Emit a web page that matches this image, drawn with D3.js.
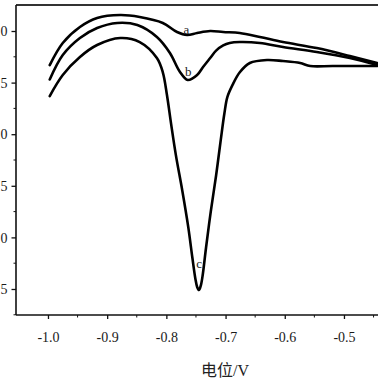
<!DOCTYPE html>
<html>
<head>
<meta charset="utf-8">
<script src="https://cdn.jsdelivr.net/npm/d3@7/dist/d3.min.js"></script>
<style>
  html, body { margin: 0; padding: 0; background: #fff; overflow: hidden; }
  svg { display: block; }
</style>
</head>
<body>
<div id="chart"></div>
<script>
// potential (V) and current values
const potA = [-0.997, -0.975, -0.946, -0.917, -0.878, -0.845, -0.806, -0.782, -0.765, -0.748, -0.726, -0.704, -0.676, -0.642, -0.603, -0.546, -0.490, -0.444];
const curA = [-1.33, -1.116, -0.961, -0.874, -0.845, -0.864, -0.922, -1.01, -1.039, -1.019, -1.0, -1.01, -1.019, -1.058, -1.107, -1.165, -1.242, -1.31];

const potB = [-0.997, -0.975, -0.946, -0.917, -0.883, -0.849, -0.816, -0.794, -0.777, -0.764, -0.748, -0.738, -0.726, -0.716, -0.704, -0.693, -0.676, -0.642, -0.603, -0.546, -0.490, -0.444];
const curB = [-1.47, -1.233, -1.068, -0.971, -0.922, -0.942, -1.058, -1.213, -1.397, -1.475, -1.426, -1.349, -1.262, -1.19, -1.14, -1.116, -1.107, -1.116, -1.155, -1.203, -1.262, -1.329];

const potC = [-0.997, -0.975, -0.946, -0.917, -0.878, -0.845, -0.816, -0.806, -0.799, -0.792, -0.784, -0.773, -0.763, -0.756, -0.751, -0.748, -0.745, -0.742, -0.739, -0.733, -0.725, -0.716, -0.708, -0.702, -0.697, -0.688, -0.676, -0.659, -0.630, -0.603, -0.574, -0.557, -0.519, -0.444];
const curC = [-1.63, -1.426, -1.252, -1.136, -1.068, -1.107, -1.262, -1.40, -1.62, -1.90, -2.20, -2.55, -2.90, -3.20, -3.40, -3.48, -3.51, -3.47, -3.38, -3.10, -2.75, -2.40, -2.05, -1.80, -1.64, -1.52, -1.40, -1.31, -1.281, -1.291, -1.31, -1.339, -1.339, -1.339];

const seriesNames = ["a", "b", "c"];
const labelPos = [[-0.766, -1.03], [-0.763, -1.44], [-0.7445, -3.30]];

const xTicks = [-1.0, -0.9, -0.8, -0.7, -0.6, -0.5];
const xMinor = [-0.95, -0.85, -0.75, -0.65, -0.55, -0.45];
const yTicks = [-1.0, -1.5, -2.0, -2.5, -3.0, -3.5];
const yMinor = [-1.25, -1.75, -2.25, -2.75, -3.25, -3.75];
const xTitle = "电位/V";

const W = 378, H = 378;
const padL = 16, padR = 385.4, padT = 5, padB = 315;

const svg = d3.select("#chart").append("svg")
  .attr("width", W).attr("height", H)
  .attr("viewBox", `0 0 ${W} ${H}`);

const x = d3.scaleLinear().domain([-1.054, -0.43]).range([padL, padR]);
const y = d3.scaleLinear().domain([-0.748, -3.752]).range([padT, padB]);

const serif = "'Times New Roman', 'Liberation Serif', 'Noto Sans CJK SC', serif";

// frame top
svg.append("line")
  .attr("x1", padL).attr("x2", W + 10)
  .attr("y1", padT).attr("y2", padT)
  .attr("stroke", "#333").attr("stroke-width", 1.8);

// x axis
const xAxis = svg.append("g").attr("transform", `translate(0,${padB})`)
  .style("font-family", serif);
xAxis.call(d3.axisBottom(x).tickValues(xTicks).tickSize(4).tickSizeOuter(0).tickFormat(d3.format(".1f")));
xAxis.append("g").selectAll("line").data(xMinor).join("line")
  .attr("x1", (d) => x(d)).attr("x2", (d) => x(d))
  .attr("y1", 0).attr("y2", 2.5).attr("stroke", "#111");
xAxis.select(".domain").attr("stroke", "#111").attr("stroke-width", 1.6)
  .attr("d", `M${padL},0H${W + 10}`);
xAxis.selectAll(".tick line").attr("stroke", "#111").attr("stroke-width", 1.3);
xAxis.selectAll(".tick text")
  .style("font-family", serif).attr("font-size", 14).attr("fill", "#1a1a1a")
  .attr("dy", null).attr("y", 27)
  .text((d) => d3.format(".1f")(d).replace("−", "-"));

// y axis (labels are cut by the left edge, as in the source figure)
const yAxis = svg.append("g").attr("transform", `translate(${padL},0)`)
  .style("font-family", serif);
yAxis.call(d3.axisLeft(y).tickValues(yTicks).tickSize(4.5).tickSizeOuter(0).tickFormat(d3.format(".1f")));
yAxis.append("g").selectAll("line").data(yMinor).join("line")
  .attr("y1", (d) => y(d)).attr("y2", (d) => y(d))
  .attr("x1", 0).attr("x2", -2.5).attr("stroke", "#111");
yAxis.select(".domain").attr("stroke", "#111").attr("stroke-width", 1.6)
  .attr("d", `M0,${padT}V${padB}`);
yAxis.selectAll(".tick line").attr("stroke", "#111").attr("stroke-width", 1.3);
yAxis.selectAll(".tick text")
  .style("font-family", serif).attr("font-size", 14).attr("fill", "#1a1a1a")
  .attr("x", -8.5).attr("dy", "0.33em")
  .text((d) => d3.format(".1f")(d).replace("−", "-"));

// axis title
svg.append("text")
  .attr("x", 225).attr("y", 376)
  .attr("text-anchor", "middle")
  .style("font-family", serif).attr("font-size", 16).attr("fill", "#222")
  .text(xTitle);

// curves
const line = d3.line()
  .x((d) => x(d[0]))
  .y((d) => y(d[1]))
  .curve(d3.curveCatmullRom.alpha(0.5));

const curves = [
  d3.zip(potA, curA),
  d3.zip(potB, curB),
  d3.zip(potC, curC),
];

svg.append("g").selectAll("path").data(curves).join("path")
  .attr("d", line)
  .attr("fill", "none")
  .attr("stroke", "#000")
  .attr("stroke-width", 2.6)
  .attr("stroke-linejoin", "round")
  .attr("stroke-linecap", "round");

svg.append("g").selectAll("text").data(seriesNames).join("text")
  .attr("x", (_, i) => x(labelPos[i][0]))
  .attr("y", (_, i) => y(labelPos[i][1]))
  .attr("text-anchor", "middle")
  .style("font-family", serif).attr("font-size", 13).attr("fill", "#222")
  .text((d) => d);
</script>
</body>
</html>
